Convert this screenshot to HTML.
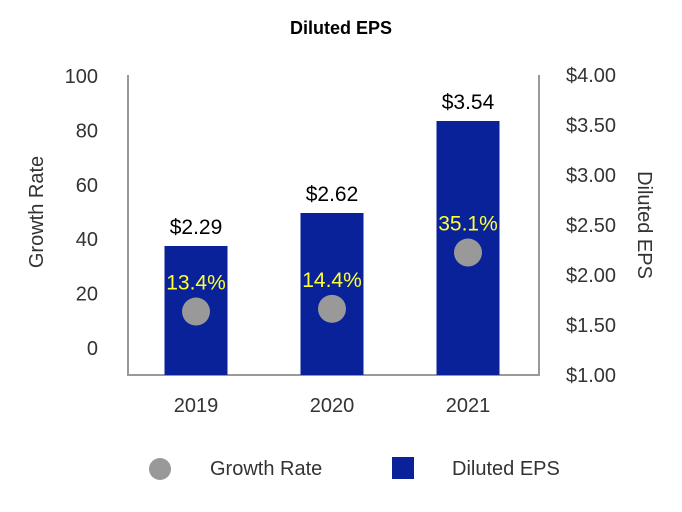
<!DOCTYPE html>
<html><head><meta charset="utf-8"><style>
body{margin:0;background:#fff;}
svg{display:block;font-family:"Liberation Sans",sans-serif;}
</style></head><body>
<svg id="chart" width="682" height="512">
<text x="341" y="34" text-anchor="middle" font-size="18" font-weight="bold">Diluted EPS</text>
<g id="axes"></g><g id="marks"></g>
<text transform="translate(43,212) rotate(-90)" text-anchor="middle" font-size="20" fill="#333">Growth Rate</text>
<text transform="translate(638,225) rotate(90)" text-anchor="middle" font-size="20" fill="#333">Diluted EPS</text>
<g>
<circle cx="160" cy="469" r="11" fill="#999"/>
<text x="210" y="475" font-size="20" fill="#333">Growth Rate</text>
<rect x="392" y="457" width="22" height="22" fill="#0a2299"/>
<text x="452" y="475" font-size="20" fill="#333">Diluted EPS</text>
</g>
</svg>
<script>
const categories=["2019","2020","2021"];
const epsValues=[2.29,2.62,3.54];
const growthValues=[13.4,14.4,35.1];
const leftTicks=[0,20,40,60,80,100];
const rightTicks=[1,1.5,2,2.5,3,3.5,4];
const NS="http://www.w3.org/2000/svg";
const yL=v=>348-v*2.72;
const yR=v=>375-(v-1)*100;
const xC=i=>196+i*136;
function mk(t,a,p){const e=document.createElementNS(NS,t);for(const k in a)e.setAttribute(k,a[k]);p.appendChild(e);return e;}
const axes=document.getElementById('axes'),marks=document.getElementById('marks');
let l=mk('path',{d:'M128,75V375H539V75',fill:'none',stroke:'#999','stroke-width':2},axes);


leftTicks.forEach(v=>{const t=mk('text',{x:98,y:yL(v)+7,'text-anchor':'end','font-size':20,fill:'#333'},axes);t.textContent=v;

});
rightTicks.forEach(v=>{const t=mk('text',{x:566,y:yR(v)+7,'font-size':20,fill:'#333'},axes);t.textContent='$'+v.toFixed(2);

});
categories.forEach((c,i)=>{
const t=mk('text',{x:xC(i),y:412,'text-anchor':'middle','font-size':20,fill:'#333'},axes);t.textContent=c;


const y=yR(epsValues[i]);
const b=mk('rect',{x:xC(i)-31.5,y:y,width:63,height:375-y,fill:'#0a2299'},marks);


const bl=mk('text',{x:xC(i),y:y-12,'text-anchor':'middle','font-size':21,fill:'#000'},marks);bl.textContent='$'+epsValues[i].toFixed(2);


const gy=yL(growthValues[i]);
const d=mk('circle',{cx:xC(i),cy:gy,r:14,fill:'#999'},marks);


const gl=mk('text',{x:xC(i),y:gy-22,'text-anchor':'middle','font-size':21,fill:'#ffff33'},marks);gl.textContent=growthValues[i].toFixed(1)+'%';


});
</script>
</body></html>
